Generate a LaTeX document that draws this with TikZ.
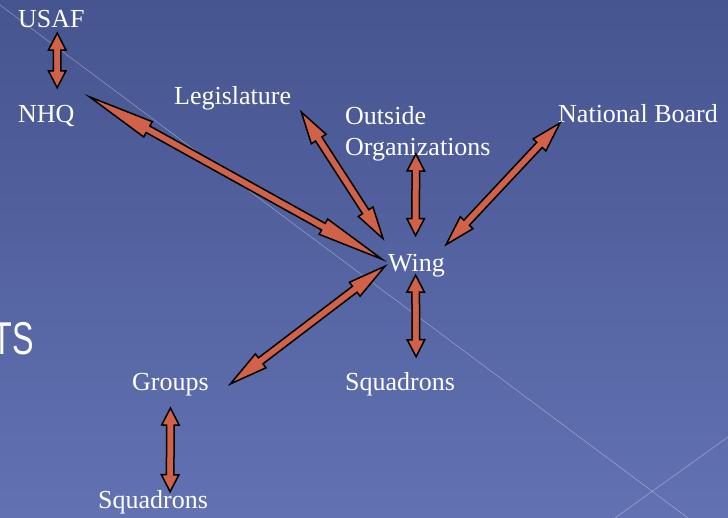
\documentclass[tikz,border=0pt]{standalone}
\usepackage{fontspec}
\setmainfont{Liberation Serif}
\newfontfamily\slidesans{Liberation Sans}
\usetikzlibrary{calc}

\definecolor{slidetop}{HTML}{46558F}
\definecolor{slidebottom}{HTML}{6271B2}
\definecolor{arrowred}{HTML}{D2614A}

\tikzset{
  lbl/.style={text=white, inner sep=0pt, anchor=base west,
    font=\fontsize{26}{31}\selectfont},
  blockarrow/.style={fill=arrowred, draw=black, line width=1.5pt, line join=miter},
  sweep/.style={white, opacity=0.35, line width=0.6pt}
}

% double block arrow between two tips, #1 = head length
\newcommand{\dblarrow}[3][17]{%
  \coordinate (ta) at #2;
  \coordinate (tb) at #3;
  \filldraw[blockarrow] (ta)
    -- ($(ta)!#1pt!(tb)!8.75pt!90:(tb)$)
    -- ($(ta)!#1pt!(tb)!3.75pt!90:(tb)$)
    -- ($(tb)!#1pt!(ta)!3.75pt!-90:(ta)$)
    -- ($(tb)!#1pt!(ta)!8.75pt!-90:(ta)$)
    -- (tb)
    -- ($(tb)!#1pt!(ta)!8.75pt!90:(ta)$)
    -- ($(tb)!#1pt!(ta)!3.75pt!90:(ta)$)
    -- ($(ta)!#1pt!(tb)!3.75pt!-90:(tb)$)
    -- ($(ta)!#1pt!(tb)!8.75pt!-90:(tb)$)
    -- cycle;
}

\begin{document}
\begin{tikzpicture}[x=1pt,y=-1pt]
  \useasboundingbox (0,0) rectangle (728,518);
  \clip (0,0) rectangle (728,518);
  \shade[top color=slidetop, bottom color=slidebottom] (0,0) rectangle (728,518);

  % slide decoration
  \draw[sweep] (0,5) -- (688,518);
  \draw[sweep] (615,518) -- (728,437);
  \node[text=white, inner sep=0pt, anchor=base east, xscale=0.7,
    font=\slidesans\fontsize{46}{46}\selectfont] (cut) at (34,355) {TS};

  % labels
  \node[lbl] (usaf) at (18,28) {USAF};
  \node[lbl] (nhq) at (18,123) {NHQ};
  \node[lbl] (legis) at (174,105) {Legislature};
  \node[lbl, anchor=south west, align=left] (outside) at (345,161) {Outside\\Organizations};
  \node[lbl] (natb) at (558,123) {National Board};
  \node[lbl] (wing) at (388,272) {Wing};
  \node[lbl] (groups) at (132,391) {Groups};
  \node[lbl] (squadR) at (345,390) {Squadrons};
  \node[lbl] (squadL) at (98,508) {Squadrons};

  % connectors
  \dblarrow{([xshift=5.8pt,yshift=-4.6pt]usaf.south)}{([xshift=10.8pt,yshift=17.8pt]nhq.north)}
  \dblarrow[67]{([xshift=14.7pt,yshift=8.8pt]nhq.north east)}{([xshift=-6pt,yshift=7pt]wing.west)}
  \dblarrow[32]{([xshift=10pt,yshift=-1.3pt]legis.south east)}{([xshift=-5pt,yshift=16pt]wing.north west)}
  \dblarrow{([xshift=-2pt,yshift=7pt]outside.south)}{([xshift=-1pt,yshift=19pt]wing.north)}
  \dblarrow[30]{([xshift=2pt]natb.base west)}{([xshift=1pt,yshift=10pt]wing.north east)}
  \dblarrow[38]{([xshift=-3pt]wing.west)}{([xshift=21.5pt,yshift=1.3pt]groups.east)}
  \dblarrow{([xshift=-1pt,yshift=2.7pt]wing.south)}{([xshift=16pt,yshift=15pt]squadR.north)}
  \dblarrow{([yshift=-11.3pt]groups.south)}{([xshift=17pt,yshift=-2pt]squadL.north)}
\end{tikzpicture}
\end{document}
